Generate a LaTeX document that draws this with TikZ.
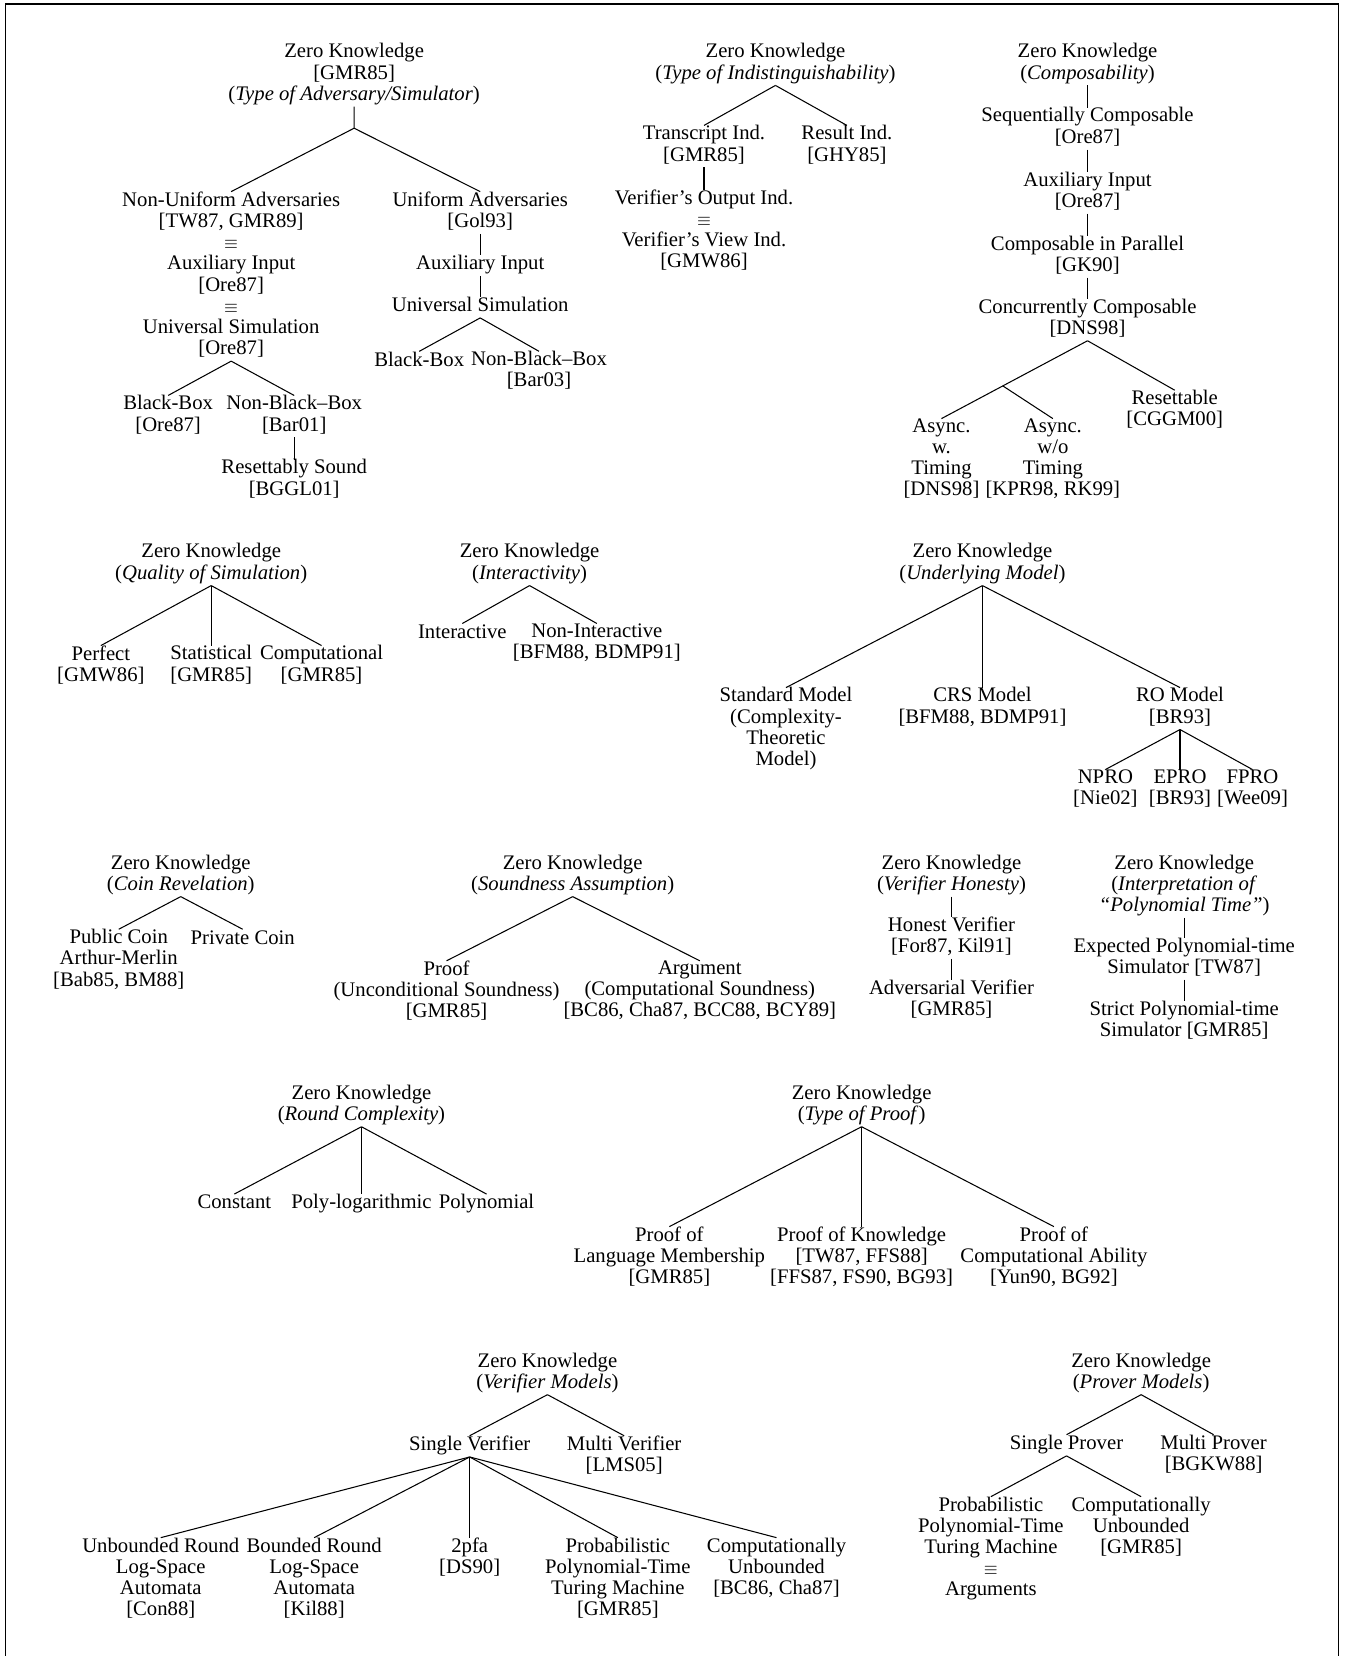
\documentclass[tikz,border=0pt]{standalone}
\usepackage{fontspec}
\setmainfont{Liberation Serif}
\usetikzlibrary{calc}
\newcommand\zkref[1]{[#1]}
\newcommand\eqv{{\fontsize{8.5}{10.1}\selectfont$\equiv$}}
\begin{document}
\begin{tikzpicture}[x=0.5pt,y=-0.5pt,
  t/.style={align=center, inner sep=0pt, outer sep=0pt, anchor=north, yshift=3.82pt,
    font=\fontsize{9.85}{10.1}\selectfont,
    execute at begin node=\strut, execute at end node=\strut},
  e/.style={line width=0.5pt},
  frame/.style={line width=0.7pt, line join=miter}]
\useasboundingbox (0,0) rectangle (1280,1576);
\draw[frame] (5,1580) -- (5,4) -- (1274,4) -- (1274,1580);

% ---- Type of Adversary/Simulator
\node[t] (A0) at (337,49) {Zero Knowledge\\\zkref{GMR85}\\(\textit{Type of Adversary/Simulator})};
\coordinate (aA) at (337,122);
\node[t] (A1) at (220,190) {Non-Uniform Adversaries\\\zkref{TW87, GMR89}\\\eqv\\Auxiliary Input\\\zkref{Ore87}\\\eqv\\Universal Simulation\\\zkref{Ore87}};
\node[t] (A2) at (457,190) {Uniform Adversaries\\\zkref{Gol93}};
\node[t] (A3) at (457,250) {Auxiliary Input};
\node[t] (A4) at (457,290) {Universal Simulation};
\node[t] (A5) at (399,342) {Black-Box};
\node[t] (A6) at (513,342) {Non-Black--Box\\\zkref{Bar03}};
\node[t] (A7) at (160,384) {Black-Box\\\zkref{Ore87}};
\node[t] (A8) at (280,384) {Non-Black--Box\\\zkref{Bar01}};
\node[t] (A9) at (280,445) {Resettably Sound\\\zkref{BGGL01}};
\draw[e] (A0.south) -- (aA) -- (A1.north);
\draw[e] (aA) -- (A2.north);
\draw[e] (A2.south) -- (A3.north);
\draw[e] (A3.south) -- (A4.north);
\draw[e] (A4.south) -- (A5.north);
\draw[e] (A4.south) -- (A6.north);
\draw[e] (A1.south) -- (A7.north);
\draw[e] (A1.south) -- (A8.north);
\draw[e] (A8.south) -- (A9.north);

% ---- Type of Indistinguishability
\node[t] (B0) at (738,49) {Zero Knowledge\\(\textit{Type of Indistinguishability})};
\node[t] (B1) at (670,127) {Transcript Ind.\\\zkref{GMR85}};
\node[t] (B2) at (806,127) {Result Ind.\\\zkref{GHY85}};
\node[t] (B3) at (670,188) {Verifier's Output Ind.\\\eqv\\Verifier's View Ind.\\\zkref{GMW86}};
\draw[e] (B0.south) -- (B1.north);
\draw[e] (B0.south) -- (B2.north);
\draw[e] (B1.south) -- (B3.north);

% ---- Composability
\node[t] (C0) at (1035,49) {Zero Knowledge\\(\textit{Composability})};
\node[t] (C1) at (1035,110) {Sequentially Composable\\\zkref{Ore87}};
\node[t] (C2) at (1035,171) {Auxiliary Input\\\zkref{Ore87}};
\node[t] (C3) at (1035,232) {Composable in Parallel\\\zkref{GK90}};
\node[t] (C4) at (1035,292) {Concurrently Composable\\\zkref{DNS98}};
\node[t] (C5) at (896,406) {Async.\\w.\\Timing\\\zkref{DNS98}};
\node[t] (C6) at (1002,406) {Async.\\w/o\\Timing\\\zkref{KPR98, RK99}};
\node[t] (C7) at (1118,379) {Resettable\\\zkref{CGGM00}};
\draw[e] (C0.south) -- (C1.north);
\draw[e] (C1.south) -- (C2.north);
\draw[e] (C2.south) -- (C3.north);
\draw[e] (C3.south) -- (C4.north);
\draw[e] (C4.south) -- (C5.north);
\coordinate (cb) at ($(C4.south)!0.58!(C5.north)$);
\draw[e] (cb) -- (C6.north);
\draw[e] (C4.south) -- (C7.north);

% ---- Quality of Simulation
\node[t] (D0) at (201,525) {Zero Knowledge\\(\textit{Quality of Simulation})};
\node[t] (D1) at (96,622) {Perfect\\\zkref{GMW86}};
\node[t] (D2) at (201,622) {Statistical\\\zkref{GMR85}};
\node[t] (D3) at (306,622) {Computational\\\zkref{GMR85}};
\draw[e] (D0.south) -- (D1.north);
\draw[e] (D0.south) -- (D2.north);
\draw[e] (D0.south) -- (D3.north);

% ---- Interactivity
\node[t] (E0) at (504,525) {Zero Knowledge\\(\textit{Interactivity})};
\node[t] (E1) at (440,601) {Interactive};
\node[t] (E2) at (568,601) {Non-Interactive\\\zkref{BFM88, BDMP91}};
\draw[e] (E0.south) -- (E1.north);
\draw[e] (E0.south) -- (E2.north);

% ---- Underlying Model
\node[t] (F0) at (935,525) {Zero Knowledge\\(\textit{Underlying Model})};
\node[t] (F1) at (748,662) {Standard Model\\(Complexity-\\Theoretic\\Model)};
\node[t] (F2) at (935,662) {CRS Model\\\zkref{BFM88, BDMP91}};
\node[t] (F3) at (1123,662) {RO Model\\\zkref{BR93}};
\node[t] (F4) at (1052,740) {NPRO\\\zkref{Nie02}};
\node[t] (F5) at (1123,740) {EPRO\\\zkref{BR93}};
\node[t] (F6) at (1192,740) {FPRO\\\zkref{Wee09}};
\draw[e] (F0.south) -- (F1.north);
\draw[e] (F0.south) -- (F2.north);
\draw[e] (F0.south) -- (F3.north);
\draw[e] (F3.south) -- (F4.north);
\draw[e] (F3.south) -- (F5.north);
\draw[e] (F3.south) -- (F6.north);

% ---- Coin Revelation
\node[t] (G0) at (172,821) {Zero Knowledge\\(\textit{Coin Revelation})};
\node[t] (G1) at (113,892) {Public Coin\\Arthur-Merlin\\\zkref{Bab85, BM88}};
\node[t] (G2) at (231,892) {Private Coin};
\draw[e] (G0.south) -- (G1.north);
\draw[e] (G0.south) -- (G2.north);

% ---- Soundness Assumption
\node[t] (H0) at (545,821) {Zero Knowledge\\(\textit{Soundness Assumption})};
\node[t] (H1) at (425,922) {Proof\\(Unconditional Soundness)\\\zkref{GMR85}};
\node[t] (H2) at (666,922) {Argument\\(Computational Soundness)\\\zkref{BC86, Cha87, BCC88, BCY89}};
\draw[e] (H0.south) -- (H1.north);
\draw[e] (H0.south) -- (H2.north);

% ---- Verifier Honesty
\node[t] (I0) at (905.5,821) {Zero Knowledge\\(\textit{Verifier Honesty})};
\node[t] (I1) at (905.5,880) {Honest Verifier\\\zkref{For87, Kil91}};
\node[t] (I2) at (905.5,940) {Adversarial Verifier\\\zkref{GMR85}};
\draw[e] (I0.south) -- (I1.north);
\draw[e] (I1.south) -- (I2.north);

% ---- Interpretation of Polynomial Time
\node[t] (J0) at (1127,821) {Zero Knowledge\\(\textit{Interpretation of}\\\textit{``Polynomial Time''})};
\node[t] (J1) at (1127,900) {Expected Polynomial-time\\Simulator \zkref{TW87}};
\node[t] (J2) at (1127,960) {Strict Polynomial-time\\Simulator \zkref{GMR85}};
\draw[e] (J0.south) -- (J1.north);
\draw[e] (J1.south) -- (J2.north);

% ---- Round Complexity
\node[t] (K0) at (344,1040) {Zero Knowledge\\(\textit{Round Complexity})};
\node[t] (K1) at (223,1144) {Constant};
\node[t] (K2) at (344,1144) {Poly-logarithmic};
\node[t] (K3) at (463,1144) {Polynomial};
\draw[e] (K0.south) -- (K1.north);
\draw[e] (K0.south) -- (K2.north);
\draw[e] (K0.south) -- (K3.north);

% ---- Type of Proof
\node[t] (L0) at (820,1040) {Zero Knowledge\\(\textit{Type of Proof\/})};
\node[t] (L1) at (637,1175) {Proof of\\Language Membership\\\zkref{GMR85}};
\node[t] (L2) at (820,1175) {Proof of Knowledge\\\zkref{TW87, FFS88}\\\zkref{FFS87, FS90, BG93}};
\node[t] (L3) at (1003,1175) {Proof of\\Computational Ability\\\zkref{Yun90, BG92}};
\draw[e] (L0.south) -- (L1.north);
\draw[e] (L0.south) -- (L2.north);
\draw[e] (L0.south) -- (L3.north);

% ---- Verifier Models
\node[t] (M0) at (521,1295) {Zero Knowledge\\(\textit{Verifier Models})};
\node[t] (M1) at (447,1374) {Single Verifier};
\node[t] (M2) at (594,1374) {Multi Verifier\\\zkref{LMS05}};
\node[t] (M3) at (153,1471) {Unbounded Round\\Log-Space\\Automata\\\zkref{Con88}};
\node[t] (M4) at (299,1471) {Bounded Round\\Log-Space\\Automata\\\zkref{Kil88}};
\node[t] (M5) at (447,1471) {2pfa\\\zkref{DS90}};
\node[t] (M6) at (588,1471) {Probabilistic\\Polynomial-Time\\Turing Machine\\\zkref{GMR85}};
\node[t] (M7) at (739,1471) {Computationally\\Unbounded\\\zkref{BC86, Cha87}};
\draw[e] (M0.south) -- (M1.north);
\draw[e] (M0.south) -- (M2.north);
\draw[e] (M1.south) -- (M3.north);
\draw[e] (M1.south) -- (M4.north);
\draw[e] (M1.south) -- (M5.north);
\draw[e] (M1.south) -- (M6.north);
\draw[e] (M1.south) -- (M7.north);

% ---- Prover Models
\node[t] (N0) at (1086,1295) {Zero Knowledge\\(\textit{Prover Models})};
\node[t] (N1) at (1015,1373) {Single Prover};
\node[t] (N2) at (1155,1373) {Multi Prover\\\zkref{BGKW88}};
\node[t] (N3) at (943,1432) {Probabilistic\\Polynomial-Time\\Turing Machine\\\eqv\\Arguments};
\node[t] (N4) at (1086,1432) {Computationally\\Unbounded\\\zkref{GMR85}};
\draw[e] (N0.south) -- (N1.north);
\draw[e] (N0.south) -- (N2.north);
\draw[e] (N1.south) -- (N3.north);
\draw[e] (N1.south) -- (N4.north);
\end{tikzpicture}
\end{document}
